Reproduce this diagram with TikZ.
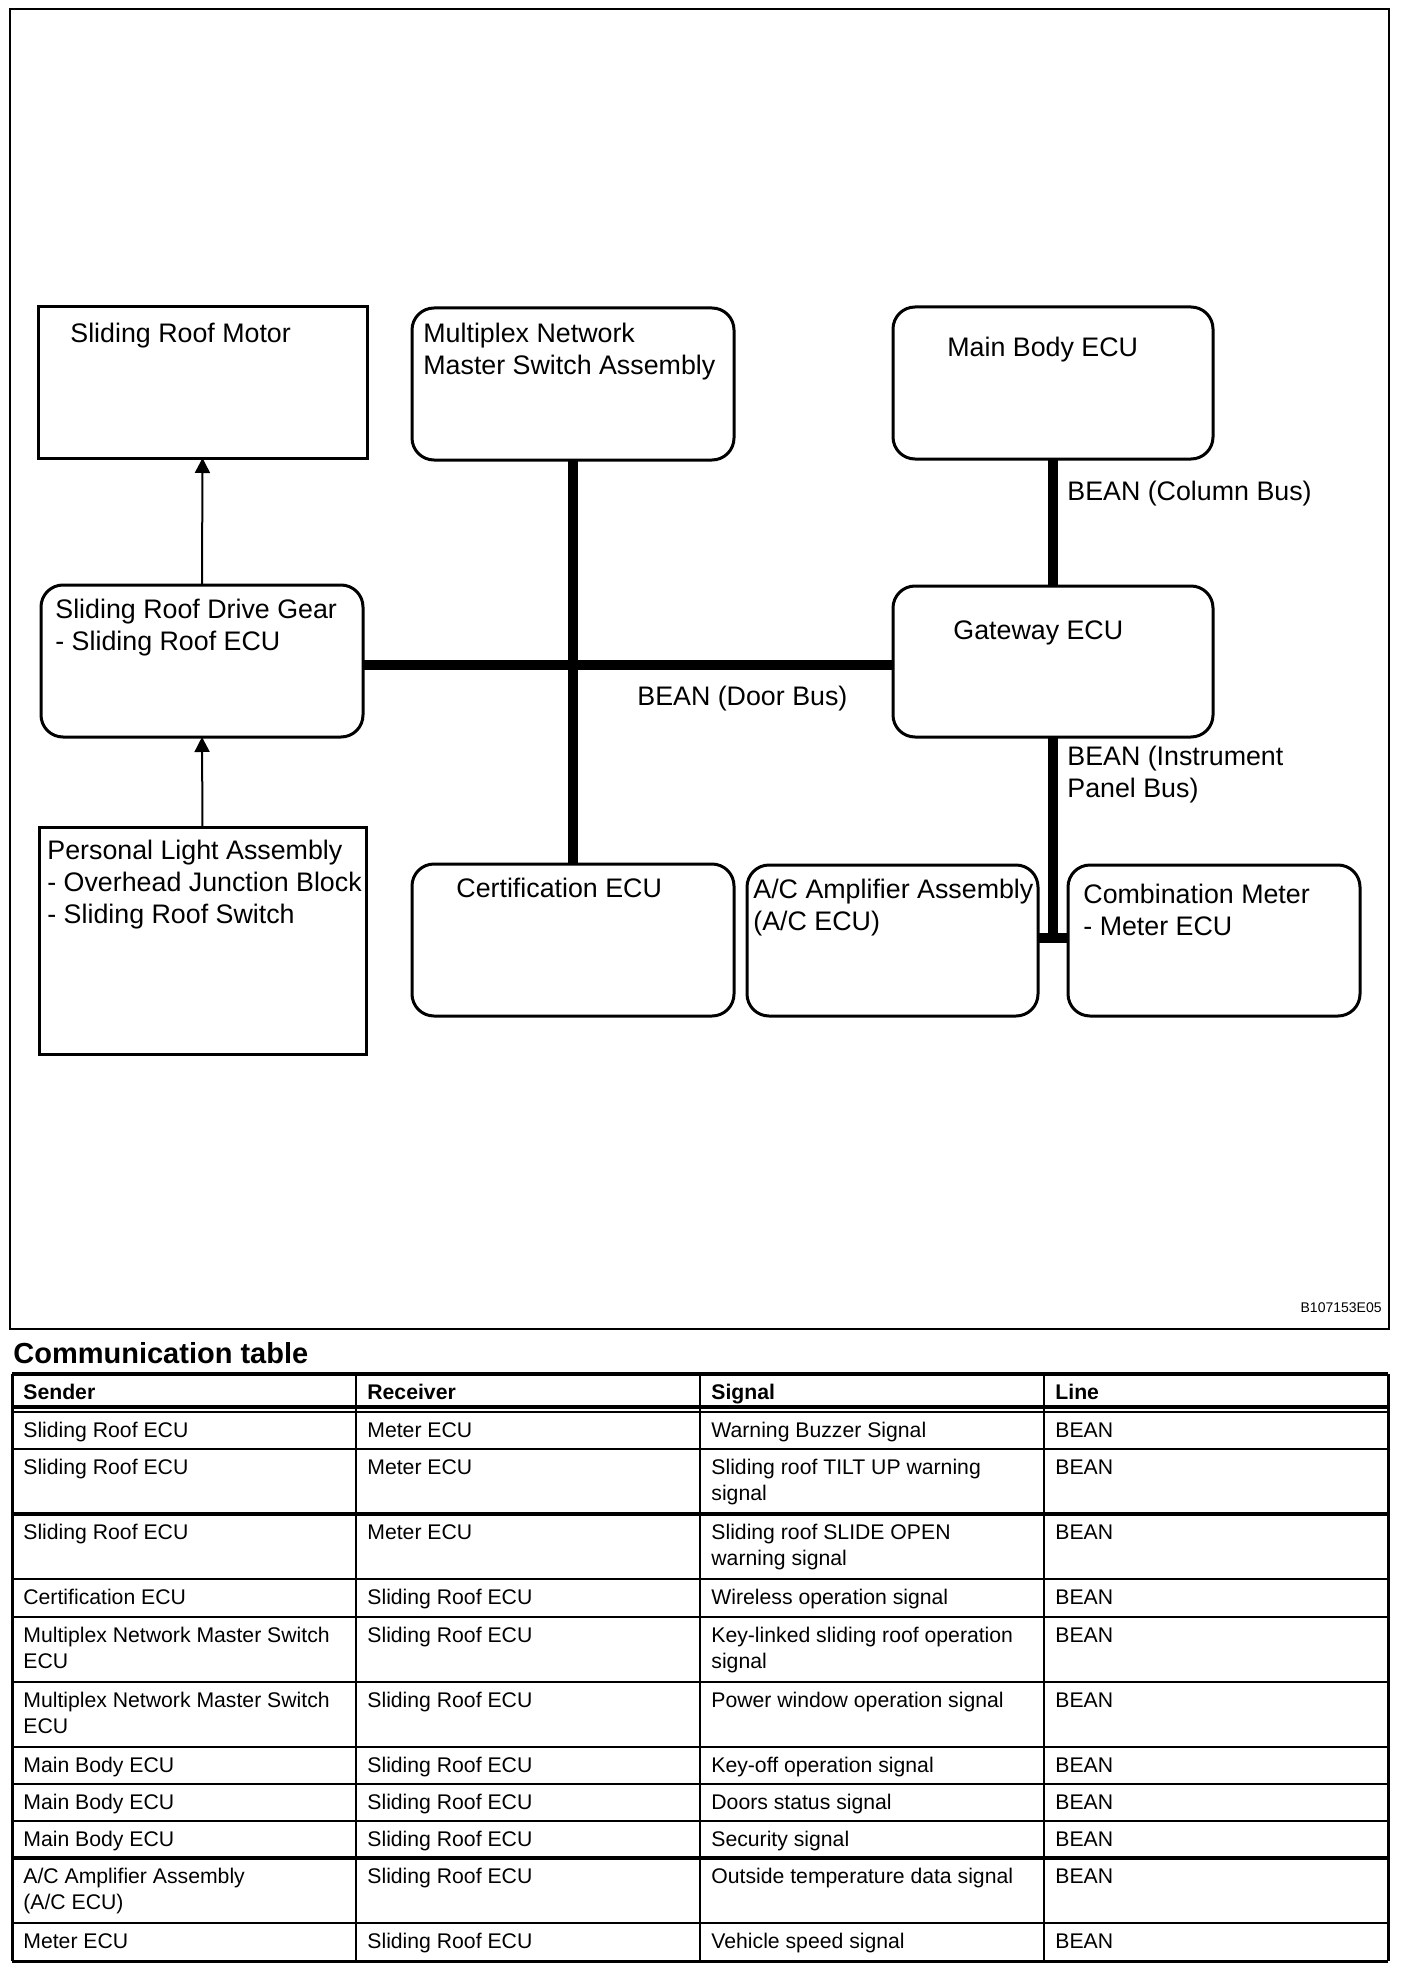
\documentclass[tikz,border=0pt]{standalone}
\usepackage{fontspec}
\setmainfont{Liberation Sans}
\usetikzlibrary{arrows.meta,positioning}

\begin{document}
\begin{tikzpicture}[x=0.5pt, y=-0.5pt,
    box/.style={draw, line width=1.5pt, inner sep=0pt, outer sep=0pt},
    ecu/.style={box, rounded corners=11pt},
    txt/.style={inner sep=0pt, anchor=base west, align=left, font=\fontsize{13.4}{16}\selectfont},
    bus/.style={line width=5pt},
    sig/.style={line width=1pt, -{Triangle[length=7.5pt,width=7.5pt]}},
    cell/.style={inner sep=0pt, anchor=base west, align=left, font=\fontsize{10.6}{13}\selectfont},
    head/.style={cell, font=\fontsize{10.6}{13}\selectfont\bfseries},
    rule/.style={line width=1pt},
    heavyrule/.style={line width=2pt}
        ]

    \path [use as bounding box] (0,0) rectangle (1408,1974);

    % outer frame of the diagram
    \draw [line width=1pt] (10,9) rectangle (1389,1329);

    % units
    \node [box, minimum width=164.5pt, minimum height=75.5pt] (motor) at (202.5,382.5) {};
    \node [ecu, minimum width=161pt, minimum height=76pt] (mpx) at (573,384) {};
    \node [ecu, minimum width=160pt, minimum height=76pt] (mb) at (1053,383) {};
    \node [ecu, minimum width=161pt, minimum height=76pt] (drive) at (202,661) {};
    \node [ecu, minimum width=160pt, minimum height=75.5pt] (gw) at (1053,661.5) {};
    \node [box, minimum width=163.5pt, minimum height=113.5pt] (pla) at (202.5,940.5) {};
    \node [ecu, minimum width=161pt, minimum height=76pt] (cert) at (573,940) {};
    \node [ecu, minimum width=145.5pt, minimum height=75.5pt] (ac) at (892.5,940.5) {};
    \node [ecu, minimum width=146pt, minimum height=75.5pt] (comb) at (1214,940.5) {};

    % texts (multi-line: coordinate is the baseline of the last line)
    \node [txt] (tmotor) at (70,343) {Sliding Roof Motor};
    \node [txt] (tmpx) at (423,374) {Multiplex Network\\Master Switch Assembly};
    \node [txt] (tmb) at (947,357) {Main Body ECU};
    \node [txt] (tdrive) at (55,650) {Sliding Roof Drive Gear\\- Sliding Roof ECU};
    \node [txt] (tgw) at (953,639) {Gateway ECU};
    \node [txt] (tpla) at (47,923) {Personal Light Assembly\\- Overhead Junction Block\\- Sliding Roof Switch};
    \node [txt] (tcert) at (456,897) {Certification ECU};
    \node [txt] (tac) at (753,930) {A/C Amplifier Assembly\\(A/C ECU)};
    \node [txt] (tcomb) at (1083,935) {Combination Meter\\- Meter ECU};

    % bus lines
    \coordinate (door) at (573,665);
    \coordinate (ipjoin) at (1053,937.5);
    \coordinate (ipend) at (1053,942.5);

    \draw [bus] (drive.east |- door) -- (gw.west |- door);
    \draw [bus] (mpx.south) -- (cert.north);
    \draw [bus] (mb.south) -- (gw.north);
    \draw [bus] (gw.south) -- (ipend);
    \draw [bus] (ac.east |- ipjoin) -- (comb.west |- ipjoin);

    \node [txt] (ldoor) at (637,705) {BEAN (Door Bus)};
    \node [txt] (lcol) at (1067,500) {BEAN (Column Bus)};
    \node [txt] (lip) at (1067,797) {BEAN (Instrument\\Panel Bus)};

    % direct wires
    \draw [sig] (drive.north) -- (motor.south);
    \draw [sig] (pla.north) -- (drive.south);

    \node [inner sep=0pt, anchor=base east, font=\fontsize{7}{8}\selectfont] (code) at (1382,1312) {B107153E05};

    % communication table
    \node [inner sep=0pt, anchor=base west, font=\fontsize{14.5}{17}\selectfont\bfseries] (title) at (13,1363) {Communication table};

    \draw [heavyrule] (12,1374) -- (1388,1374);
    \draw [heavyrule] (12,1407) -- (1388,1407);
    \draw [rule] (12,1412) -- (1388,1412);
    \foreach \y in {1449,1579,1617,1682,1747,1784,1821,1923}
        \draw [rule] (12,\y) -- (1388,\y);
    \foreach \y in {1514,1858}
        \draw [heavyrule] (12,\y) -- (1388,\y);
    \draw [line width=1.5pt] (12,1961) -- (1388,1961);
    \foreach \x in {356,700,1044}
        \draw [rule] (\x,1374) -- (\x,1961);
    \draw [line width=1.5pt] (12,1374) -- (12,1961);
    \draw [line width=1.5pt] (1388,1374) -- (1388,1961);

    \node [head] (hsnd) at (23,1399) {Sender};
    \node [head] (hrcv) at (367,1399) {Receiver};
    \node [head] (hsig) at (711,1399) {Signal};
    \node [head] (hln) at (1055,1399) {Line};

    \node [cell] (snd1) at (23,1437) {Sliding Roof ECU};
    \node [cell] (rcv1) at (367,1437) {Meter ECU};
    \node [cell] (sig1) at (711,1437) {Warning Buzzer Signal};
    \node [cell] (ln1) at (1055,1437) {BEAN};

    \node [cell] (snd2) at (23,1474) {Sliding Roof ECU};
    \node [cell] (rcv2) at (367,1474) {Meter ECU};
    \node [cell] (sig2) at (711,1500) {Sliding roof TILT UP warning\\signal};
    \node [cell] (ln2) at (1055,1474) {BEAN};

    \node [cell] (snd3) at (23,1539) {Sliding Roof ECU};
    \node [cell] (rcv3) at (367,1539) {Meter ECU};
    \node [cell] (sig3) at (711,1565) {Sliding roof SLIDE OPEN\\warning signal};
    \node [cell] (ln3) at (1055,1539) {BEAN};

    \node [cell] (snd4) at (23,1604) {Certification ECU};
    \node [cell] (rcv4) at (367,1604) {Sliding Roof ECU};
    \node [cell] (sig4) at (711,1604) {Wireless operation signal};
    \node [cell] (ln4) at (1055,1604) {BEAN};

    \node [cell] (snd5) at (23,1668) {Multiplex Network Master Switch\\ECU};
    \node [cell] (rcv5) at (367,1642) {Sliding Roof ECU};
    \node [cell] (sig5) at (711,1668) {Key-linked sliding roof operation\\signal};
    \node [cell] (ln5) at (1055,1642) {BEAN};

    \node [cell] (snd6) at (23,1733) {Multiplex Network Master Switch\\ECU};
    \node [cell] (rcv6) at (367,1707) {Sliding Roof ECU};
    \node [cell] (sig6) at (711,1707) {Power window operation signal};
    \node [cell] (ln6) at (1055,1707) {BEAN};

    \node [cell] (snd7) at (23,1772) {Main Body ECU};
    \node [cell] (rcv7) at (367,1772) {Sliding Roof ECU};
    \node [cell] (sig7) at (711,1772) {Key-off operation signal};
    \node [cell] (ln7) at (1055,1772) {BEAN};

    \node [cell] (snd8) at (23,1809) {Main Body ECU};
    \node [cell] (rcv8) at (367,1809) {Sliding Roof ECU};
    \node [cell] (sig8) at (711,1809) {Doors status signal};
    \node [cell] (ln8) at (1055,1809) {BEAN};

    \node [cell] (snd9) at (23,1846) {Main Body ECU};
    \node [cell] (rcv9) at (367,1846) {Sliding Roof ECU};
    \node [cell] (sig9) at (711,1846) {Security signal};
    \node [cell] (ln9) at (1055,1846) {BEAN};

    \node [cell] (snd10) at (23,1909) {A/C Amplifier Assembly\\(A/C ECU)};
    \node [cell] (rcv10) at (367,1883) {Sliding Roof ECU};
    \node [cell] (sig10) at (711,1883) {Outside temperature data signal};
    \node [cell] (ln10) at (1055,1883) {BEAN};

    \node [cell] (snd11) at (23,1948) {Meter ECU};
    \node [cell] (rcv11) at (367,1948) {Sliding Roof ECU};
    \node [cell] (sig11) at (711,1948) {Vehicle speed signal};
    \node [cell] (ln11) at (1055,1948) {BEAN};

\end{tikzpicture}
\end{document}
